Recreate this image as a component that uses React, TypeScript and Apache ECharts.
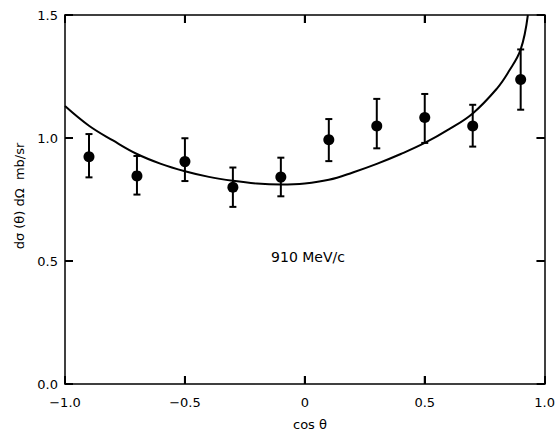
import React, { useEffect, useRef } from "react";
import * as echarts from "echarts";

const xPoints = [-0.9, -0.7, -0.5, -0.3, -0.1, 0.1, 0.3, 0.5, 0.7, 0.9];
const yPoints = [0.924, 0.846, 0.904, 0.8, 0.841, 0.993, 1.049, 1.083, 1.049, 1.238];
const yLow = [0.84, 0.77, 0.825, 0.72, 0.763, 0.906, 0.958, 0.98, 0.965, 1.115];
const yHigh = [1.016, 0.927, 0.999, 0.88, 0.92, 1.077, 1.159, 1.179, 1.135, 1.36];

const curveX = [-1.0, -0.9, -0.8, -0.7, -0.6, -0.5, -0.4, -0.3, -0.2, -0.1, 0.0, 0.1, 0.2, 0.3, 0.4, 0.5, 0.6, 0.7, 0.8, 0.85, 0.9, 0.93];
const curveY = [1.13, 1.05, 0.99, 0.935, 0.895, 0.865, 0.842, 0.826, 0.815, 0.811, 0.815, 0.83, 0.86, 0.895, 0.935, 0.98, 1.035, 1.1, 1.2, 1.27, 1.36, 1.5];

const xTicks = [-0.5, 0, 0.5];
const yTicks = [0.5, 1.0];

const xTickLabels: Record<string, string> = {
  "-1": "−1.0",
  "-0.5": "−0.5",
  "0": "0",
  "0.5": "0.5",
  "1": "1.0",
};
const yTickLabels: Record<string, string> = {
  "0": "0.0",
  "0.5": "0.5",
  "1": "1.0",
  "1.5": "1.5",
};

const FONT = "DejaVu Sans";

const mkLine = () => ({ show: true, onZero: false, lineStyle: { color: "#000", width: 1.5 } });
const mkTick = () => ({ show: true, inside: true, length: 8, lineStyle: { color: "#000", width: 2 } });

const tickSeries = (data: number[][], size: number[], offset: number[]) => ({
  type: "scatter",
  data,
  symbol: "rect",
  symbolSize: size,
  symbolOffset: offset,
  itemStyle: { color: "#000", opacity: 1 },
  silent: true,
  clip: false,
  z: 10,
});

export default function App() {
  const ref = useRef<HTMLDivElement>(null);
  useEffect(() => {
    if (!ref.current) return;
    const chart = echarts.init(ref.current, null, { renderer: "svg" });
    chart.setOption({
      animation: false,
      backgroundColor: "#fff",
      grid: { left: 65, right: 6, top: 15, bottom: 48 },
      xAxis: [
        {
          type: "value",
          position: "bottom",
          min: -1,
          max: 1,
          interval: 0.5,
          axisLine: mkLine(),
          axisTick: mkTick(),
          splitLine: { show: false },
          axisLabel: {
            color: "#000",
            fontFamily: FONT,
            fontSize: 13,
            margin: 12,
            formatter: (v: number) => xTickLabels[String(v)] ?? String(v),
          },
        },
        {
          type: "value",
          position: "top",
          min: -1,
          max: 1,
          interval: 0.5,
          axisLine: mkLine(),
          axisTick: mkTick(),
          axisLabel: { show: false },
          splitLine: { show: false },
        },
      ],
      yAxis: [
        {
          type: "value",
          position: "left",
          min: 0,
          max: 1.5,
          interval: 0.5,
          axisLine: mkLine(),
          axisTick: mkTick(),
          splitLine: { show: false },
          axisLabel: {
            color: "#000",
            fontFamily: FONT,
            fontSize: 13,
            margin: 7,
            formatter: (v: number) => yTickLabels[String(v)] ?? String(v),
          },
        },
        {
          type: "value",
          position: "right",
          min: 0,
          max: 1.5,
          interval: 0.5,
          axisLine: mkLine(),
          axisTick: mkTick(),
          axisLabel: { show: false },
          splitLine: { show: false },
        },
      ],
      series: [
        tickSeries(xTicks.map((v) => [v, 0]), [2, 8], [0, -4]),
        tickSeries(xTicks.map((v) => [v, 1.5]), [2, 8], [0, 4]),
        tickSeries(yTicks.map((v) => [-1, v]), [8, 2], [4, 0]),
        tickSeries(yTicks.map((v) => [1, v]), [8, 2], [-4, 0]),
        {
          type: "line",
          data: curveX.map((x, i) => [x, curveY[i]]),
          smooth: 0.4,
          showSymbol: false,
          clip: true,
          lineStyle: { color: "#000", width: 2 },
        },
        {
          type: "custom",
          data: xPoints.map((x, i) => [x, yLow[i], yHigh[i]]),
          renderItem: (params: any, api: any) => {
            const x = api.value(0);
            const lo = api.coord([x, api.value(1)]);
            const hi = api.coord([x, api.value(2)]);
            const w = 3.5;
            const style = { stroke: "#000", lineWidth: 2 };
            return {
              type: "group",
              children: [
                { type: "line", shape: { x1: lo[0], y1: lo[1], x2: hi[0], y2: hi[1] }, style },
                { type: "line", shape: { x1: lo[0] - w, y1: lo[1], x2: lo[0] + w, y2: lo[1] }, style },
                { type: "line", shape: { x1: hi[0] - w, y1: hi[1], x2: hi[0] + w, y2: hi[1] }, style },
              ],
            };
          },
          z: 3,
        },
        {
          type: "scatter",
          data: xPoints.map((x, i) => [x, yPoints[i]]),
          symbol: "circle",
          symbolSize: 11,
          itemStyle: { color: "#000", opacity: 1 },
          z: 4,
        },
      ],
      graphic: [
        {
          type: "text",
          x: 19,
          y: 196,
          rotation: Math.PI / 2,
          style: {
            text: "dσ (θ) dΩ  mb/sr",
            fontFamily: FONT,
            fontSize: 13,
            fill: "#000",
            textAlign: "center",
            textVerticalAlign: "middle",
          },
        },
        {
          type: "text",
          x: 310,
          y: 424,
          style: {
            text: "cos θ",
            fontFamily: FONT,
            fontSize: 13,
            fill: "#000",
            textAlign: "center",
            textVerticalAlign: "middle",
          },
        },
        {
          type: "text",
          x: 308,
          y: 257,
          style: {
            text: "910 MeV/c",
            fontFamily: FONT,
            fontSize: 14,
            fill: "#000",
            textAlign: "center",
            textVerticalAlign: "middle",
          },
        },
      ],
    });
    return () => chart.dispose();
  }, []);
  return <div ref={ref} style={{ width: 558, height: 432, position: "fixed", left: 0, top: 0 }} />;
}
